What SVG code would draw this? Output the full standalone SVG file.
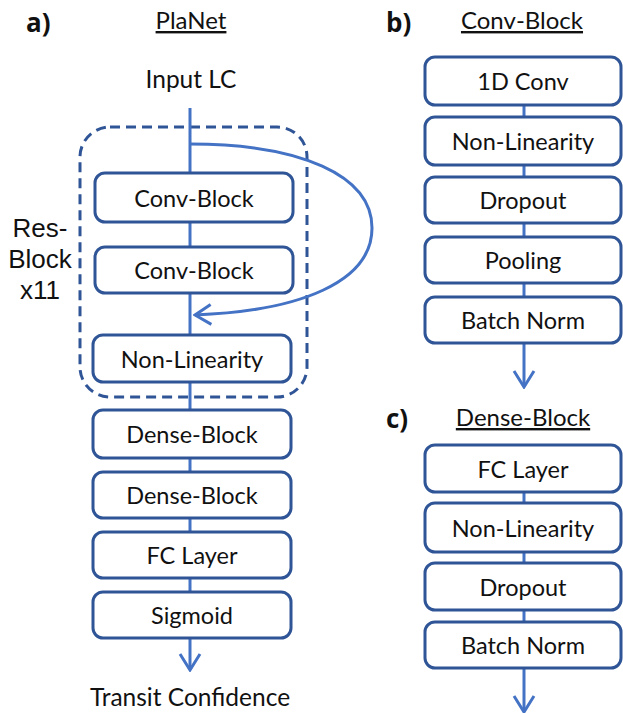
<svg xmlns="http://www.w3.org/2000/svg" width="623" height="713" viewBox="0 0 623 713">
<style>
.box{fill:#fff;stroke:#2F5597;stroke-width:3}
.lbl{font-family:Lato,"Open Sans",sans-serif;font-size:23.5px;fill:#111;text-anchor:middle;dominant-baseline:central}
.out{font-size:24.5px}
.ttl{font-family:Lato,"Open Sans",sans-serif;font-size:24px;fill:#111;text-anchor:middle;text-decoration:underline}
.tag{font-family:"Open Sans",Lato,sans-serif;font-size:26px;font-weight:bold;fill:#111}
.res{font-family:"Liberation Sans",Arial,sans-serif;font-size:26px;fill:#111;text-anchor:middle}
.con{fill:none;stroke:#4472C4;stroke-width:3}
</style>
<defs>
<marker id="chev" viewBox="0 0 20 24" refX="18" refY="12" markerWidth="20" markerHeight="24" markerUnits="userSpaceOnUse" orient="auto">
<path d="M2,2 L18,12 L2,22" fill="none" stroke="#4472C4" stroke-width="3"/>
</marker>
</defs>
<text class="tag" x="26" y="32">a)</text>
<text class="ttl" x="191" y="29">PlaNet</text>
<text class="lbl out" x="191" y="78">Input LC</text>
<text class="tag" x="386" y="32">b)</text>
<text class="ttl" x="522" y="29">Conv-Block</text>
<text class="tag" x="386" y="428">c)</text>
<text class="ttl" x="523" y="426">Dense-Block</text>
<g id="resblock">
<rect x="80" y="127" width="227" height="270" rx="30" fill="none" stroke="#2F5597" stroke-width="3" stroke-dasharray="10,6"/>
<text class="res" x="40" y="237">Res-</text>
<text class="res" x="40" y="268">Block</text>
<text class="res" x="40" y="299">x11</text>
</g>
<g id="connectors">
<line class="con" x1="190" y1="108" x2="190" y2="173"/>
<line class="con" x1="190" y1="222" x2="190" y2="247"/>
<line class="con" x1="190" y1="293" x2="190" y2="335"/>
<line class="con" x1="190" y1="382" x2="190" y2="410"/>
<line class="con" x1="190" y1="458" x2="190" y2="472"/>
<line class="con" x1="190" y1="518" x2="190" y2="532"/>
<line class="con" x1="190" y1="578" x2="190" y2="592"/>
<line class="con" x1="190" y1="638" x2="190" y2="670" marker-end="url(#chev)"/>
<path class="con" d="M190,144 C300,144 372,175 372,228 C372,282 300,311 195,315" marker-end="url(#chev)"/>
<line class="con" x1="524" y1="105" x2="524" y2="117"/>
<line class="con" x1="524" y1="165" x2="524" y2="177"/>
<line class="con" x1="524" y1="223" x2="524" y2="237"/>
<line class="con" x1="524" y1="283" x2="524" y2="297"/>
<line class="con" x1="524" y1="343" x2="524" y2="387" marker-end="url(#chev)"/>
<line class="con" x1="524" y1="492" x2="524" y2="503"/>
<line class="con" x1="524" y1="552" x2="524" y2="563"/>
<line class="con" x1="524" y1="610" x2="524" y2="622"/>
<line class="con" x1="524" y1="668" x2="524" y2="712" marker-end="url(#chev)"/>
</g>
<g id="a-conv1"><rect class="box" x="95" y="173" width="198" height="49" rx="10"/><text class="lbl" x="194" y="197.5">Conv-Block</text></g>
<g id="a-conv2"><rect class="box" x="95" y="247" width="198" height="46" rx="10"/><text class="lbl" x="194" y="270">Conv-Block</text></g>
<g id="a-nonlin"><rect class="box" x="93" y="335" width="198" height="47" rx="10"/><text class="lbl" x="192" y="358.5">Non-Linearity</text></g>
<g id="a-dense1"><rect class="box" x="93" y="410" width="198" height="48" rx="10"/><text class="lbl" x="192" y="434">Dense-Block</text></g>
<g id="a-dense2"><rect class="box" x="93" y="472" width="198" height="46" rx="10"/><text class="lbl" x="192" y="495">Dense-Block</text></g>
<g id="a-fc"><rect class="box" x="93" y="532" width="198" height="46" rx="10"/><text class="lbl" x="192" y="555">FC Layer</text></g>
<g id="a-sigmoid"><rect class="box" x="93" y="592" width="198" height="46" rx="10"/><text class="lbl" x="192" y="615">Sigmoid</text></g>
<text class="lbl out" x="190" y="696">Transit Confidence</text>
<g id="b-conv"><rect class="box" x="425" y="57" width="196" height="48" rx="10"/><text class="lbl" x="523" y="81">1D Conv</text></g>
<g id="b-nonlin"><rect class="box" x="425" y="117" width="196" height="48" rx="10"/><text class="lbl" x="523" y="141">Non-Linearity</text></g>
<g id="b-dropout"><rect class="box" x="425" y="177" width="196" height="46" rx="10"/><text class="lbl" x="523" y="200">Dropout</text></g>
<g id="b-pooling"><rect class="box" x="425" y="237" width="196" height="46" rx="10"/><text class="lbl" x="523" y="260">Pooling</text></g>
<g id="b-batchnorm"><rect class="box" x="425" y="297" width="196" height="46" rx="10"/><text class="lbl" x="523" y="320">Batch Norm</text></g>
<g id="c-fc"><rect class="box" x="425" y="445" width="196" height="47" rx="10"/><text class="lbl" x="523" y="468.5">FC Layer</text></g>
<g id="c-nonlin"><rect class="box" x="425" y="503" width="196" height="49" rx="10"/><text class="lbl" x="523" y="527.5">Non-Linearity</text></g>
<g id="c-dropout"><rect class="box" x="425" y="563" width="196" height="47" rx="10"/><text class="lbl" x="523" y="586.5">Dropout</text></g>
<g id="c-batchnorm"><rect class="box" x="425" y="622" width="196" height="46" rx="10"/><text class="lbl" x="523" y="645">Batch Norm</text></g>
</svg>
